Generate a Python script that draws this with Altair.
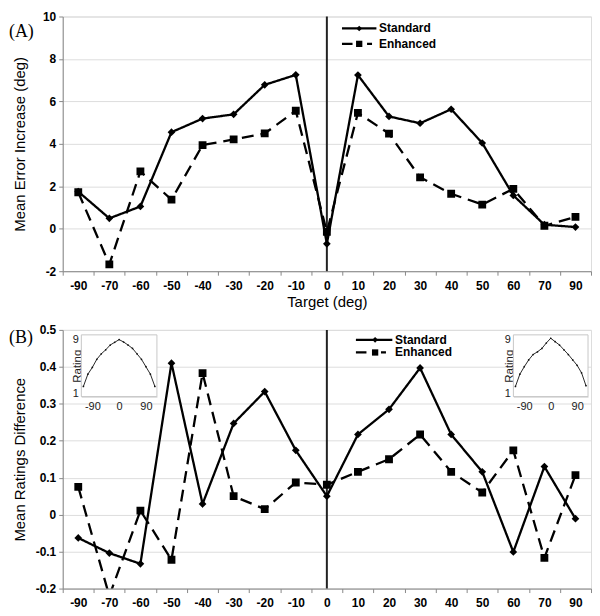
import altair as alt
import pandas as pd

# ---------------- data ----------------
targets = ["-90", "-70", "-60", "-50", "-40", "-30", "-20", "-10", "0",
           "10", "20", "30", "40", "50", "60", "70", "90"]
series = ["Standard", "Enhanced"]

err_standard = [1.75, 0.49, 1.05, 4.55, 5.19, 5.39, 6.78, 7.25, -0.71,
                7.24, 5.29, 4.97, 5.63, 4.04, 1.57, 0.19, 0.08]
err_enhanced = [1.72, -1.68, 2.70, 1.37, 3.94, 4.21, 4.49, 5.56, -0.15,
                5.46, 4.48, 2.42, 1.65, 1.14, 1.88, 0.14, 0.56]

rat_standard = [-0.063, -0.104, -0.133, 0.410, 0.029, 0.247, 0.333, 0.174, 0.050,
                0.217, 0.285, 0.397, 0.217, 0.116, -0.101, 0.130, -0.011]
rat_enhanced = [0.075, -0.220, 0.011, -0.122, 0.383, 0.050, 0.015, 0.087, 0.081,
                0.116, 0.150, 0.217, 0.116, 0.060, 0.174, -0.117, 0.107]

inset_angles = [-120, -105, -90, -75, -60, -45, -30, -15, 0,
                15, 30, 45, 60, 75, 90, 105, 120]
inset_left_rating = [2.1, 3.9, 4.9, 6.1, 6.9, 7.5, 8.2, 8.6, 9.0,
                     8.65, 8.2, 7.7, 6.9, 6.1, 5.0, 3.9, 2.1]
inset_right_rating = [2.1, 3.9, 5.0, 6.0, 6.8, 7.2, 7.7, 8.5, 9.2,
                      8.7, 8.2, 7.5, 6.8, 6.0, 5.2, 4.1, 2.2]

top_ticks = [-2, 0, 2, 4, 6, 8, 10]
bottom_ticks = [-0.2, -0.1, 0, 0.1, 0.2, 0.3, 0.4, 0.5]
inset_x_ticks = [-90, 0, 90]
inset_y_ticks = [1, 9]

# ---------------- layout constants ----------------
W = 531
H1 = 256
H2 = 260
FONT = "Liberation Sans"


def long_df(vs, ve):
    return pd.DataFrame({
        "target": targets * 2,
        "series": ["Standard"] * len(targets) + ["Enhanced"] * len(targets),
        "value": vs + ve,
    })


def x_enc(title):
    return alt.X(
        "target:O", sort=targets, bandPosition=0.5,
        scale=alt.Scale(type="band", domain=targets, paddingInner=0, paddingOuter=0),
        axis=alt.Axis(title=title, tickBand="extent", labelAngle=0, tickSize=4,
                      labelPadding=5, titlePadding=3, titleFontSize=15,
                      labelFont=FONT, labelFontSize=12, labelFontWeight="bold",
                      titleFontWeight="normal", titleFont=FONT),
    )


def main_layers(df, ydom, yticks, ytitle, label_expr, title_pad, xtitle, legend_pos, panel, panel_y):
    y = alt.Y("value:Q",
              scale=alt.Scale(domain=ydom, nice=False, zero=False),
              axis=alt.Axis(title=ytitle, values=yticks, labelExpr=label_expr, tickSize=4,
                            labelPadding=3, titlePadding=title_pad, titleFontSize=15,
                            labelFont=FONT, labelFontSize=12, labelFontWeight="bold",
                            titleFontWeight="normal", titleFont=FONT))
    base = alt.Chart(df)
    lines = base.mark_line(color="black", strokeWidth=2.3, clip=True).encode(
        x=x_enc(xtitle), y=y,
        strokeDash=alt.StrokeDash("series:N", legend=None,
                                  scale=alt.Scale(domain=series, range=[[1, 0], [12, 7]])),
    )
    pts_s = base.transform_filter(alt.datum.series == "Standard").mark_point(
        shape="diamond", filled=True, size=60, color="black", opacity=1, clip=True
    ).encode(x=x_enc(xtitle), y=y)
    pts_e = base.transform_filter(alt.datum.series == "Enhanced").mark_point(
        shape="square", filled=True, size=62, color="black", opacity=1, clip=True
    ).encode(x=x_enc(xtitle), y=y)
    rule = alt.Chart(pd.DataFrame({"target": ["0"]})).mark_rule(
        color="#222222", strokeWidth=2).encode(x=x_enc(xtitle))

    # manual legend
    x0, x1, xm, xt, ys, ye = legend_pos
    one = pd.DataFrame({"k": [0]})
    leg = [
        alt.Chart(one).mark_rule(color="black", strokeWidth=2.3).encode(
            x=alt.value(x0), x2=alt.value(x1), y=alt.value(ys)),
        alt.Chart(one).mark_point(shape="diamond", filled=True, size=32, color="black", opacity=1).encode(
            x=alt.value(xm), y=alt.value(ys)),
        alt.Chart(one).mark_text(align="left", baseline="middle", font=FONT, fontSize=12,
                                 fontWeight="bold", color="black").encode(
            x=alt.value(xt), y=alt.value(ys), text=alt.value("Standard")),
        alt.Chart(one).mark_rule(color="black", strokeWidth=2.3,
                                 strokeDash=[10.6, 14.6, 5, 100]).encode(
            x=alt.value(x0), x2=alt.value(x1), y=alt.value(ye)),
        alt.Chart(one).mark_point(shape="square", filled=True, size=40, color="black", opacity=1).encode(
            x=alt.value(xm), y=alt.value(ye)),
        alt.Chart(one).mark_text(align="left", baseline="middle", font=FONT, fontSize=12,
                                 fontWeight="bold", color="black").encode(
            x=alt.value(xt), y=alt.value(ye), text=alt.value("Enhanced")),
    ]
    lab = alt.Chart(one).mark_text(align="left", baseline="middle", font="Liberation Serif",
                                   fontSize=18, color="black").encode(
        x=alt.value(-54), y=alt.value(panel_y), text=alt.value(panel))
    return alt.layer(rule, lines, pts_s, pts_e, *leg, lab)


def inset(ratings, x_left, x_right, y_top, y_bottom):
    sx = alt.Scale(domain=[-127, 127], range=[x_left, x_right], nice=False, zero=False)
    sy = alt.Scale(domain=[0.6, 9.7], range=[y_bottom, y_top], nice=False, zero=False)
    ax = alt.Axis(title=None, orient="bottom", offset=-(H2 - y_bottom), values=inset_x_ticks,
                  ticks=False, labelFont=FONT, labelFontWeight="normal", labelFontSize=11,
                  labelPadding=4, labelColor="#222222", domainColor="#c8c8c8",
                  labelExpr="datum.value + ''")
    ay = alt.Axis(title="Rating", orient="left", offset=-x_left, values=inset_y_ticks,
                  ticks=False, labelFont=FONT, labelFontWeight="normal", labelFontSize=11,
                  labelPadding=3, labelColor="#222222", domainColor="#c8c8c8", titleFontSize=11.5,
                  titleFontWeight="normal", titleFont=FONT, titleColor="#222222",
                  titleX=1, labelExpr="datum.value + ''")
    df = pd.DataFrame({"angle": inset_angles, "rating": ratings})
    box = alt.Chart(pd.DataFrame({"k": [0]})).mark_rect(
        fill="white", stroke="#c8c8c8", strokeWidth=1).encode(
        x=alt.X(datum=-127, type="quantitative", scale=sx, axis=ax),
        x2=alt.X2(datum=127),
        y=alt.Y(datum=0.6, type="quantitative", scale=sy, axis=ay),
        y2=alt.Y2(datum=9.7),
    )
    line = alt.Chart(df).mark_line(color="#111111", strokeWidth=0.9).encode(
        x=alt.X("angle:Q", scale=sx, axis=ax),
        y=alt.Y("rating:Q", scale=sy, axis=ay),
    )
    dots = alt.Chart(df).mark_point(filled=True, size=3, color="#111111", opacity=1).encode(
        x=alt.X("angle:Q", scale=sx, axis=ax),
        y=alt.Y("rating:Q", scale=sy, axis=ay),
    )
    return alt.layer(box, line, dots)


top = main_layers(
    long_df(err_standard, err_enhanced), [-2, 10], top_ticks,
    "Mean Error Increase (deg)", "replace(format(datum.value, 'd'), '\u2212', '-')", 15,
    "Target (deg)", (280.7, 315.3, 298, 318, 12, 27.5), "(A)", 16,
).properties(width=W, height=H1)

bottom_main = main_layers(
    long_df(rat_standard, rat_enhanced), [-0.2, 0.5], bottom_ticks,
    "Mean Ratings Difference", "replace(format(datum.value, '.1~f'), '\u2212', '-')", 8,
    None, (294.7, 331.3, 314, 334, 10, 22.7), "(B)", 8,
)

bottom = alt.layer(
    bottom_main,
    inset(inset_left_rating, 18.7, 94.7, 5, 67),
    inset(inset_right_rating, 453, 528, 5, 67),
).resolve_scale(x="independent", y="independent").properties(width=W, height=H2)

chart = alt.vconcat(top, bottom, spacing=13).properties(
    padding={"left": 0, "top": 0, "right": 0, "bottom": 0}
).configure_view(stroke="#c8c8c8", strokeWidth=1).configure_axis(
    grid=False, domainColor="#c0c0c0", tickColor="#c0c0c0", labelFont=FONT,
    labelFontSize=12, labelFontWeight="bold", labelColor="black", titleColor="black",
    titleFont=FONT,
).configure(background="white")

chart.save("out.html", embed_options={"renderer": "svg", "actions": False})
